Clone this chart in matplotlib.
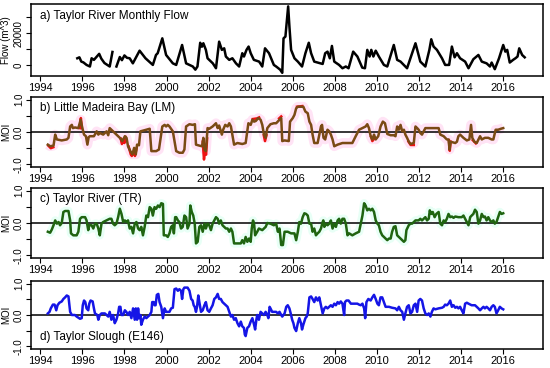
import numpy as np
import matplotlib
matplotlib.use("Agg")
import matplotlib.pyplot as plt

plt.rcParams['font.family'] = ['Liberation Sans', 'DejaVu Sans']

# ---------------- data ----------------
flow_t = [1995.76, 1995.86, 1995.95, 1996.05, 1996.2, 1996.36, 1996.44, 1996.55, 1996.68, 1996.8, 1996.9,
          1997.05, 1997.3, 1997.43, 1997.45, 1997.62, 1997.78, 1997.88, 1998.0, 1998.12, 1998.25, 1998.4,
          1998.72, 1999.0, 1999.35, 1999.5, 1999.58, 1999.8, 1999.98, 2000.3, 2000.46, 2000.74, 2000.93,
          2001.25, 2001.37, 2001.47, 2001.6, 2001.68, 2001.75, 2001.87, 2001.95, 2002.2, 2002.35, 2002.5,
          2002.63, 2002.74, 2002.82, 2002.98, 2003.13, 2003.3, 2003.45, 2003.6, 2003.68, 2003.8, 2003.9,
          2004.0, 2004.15, 2004.4, 2004.55, 2004.68, 2004.87, 2005.1, 2005.21, 2005.4, 2005.5, 2005.56,
          2005.65, 2005.72, 2005.78, 2005.84, 2005.92, 2006.08, 2006.24, 2006.44, 2006.6, 2006.76, 2006.87,
          2007.02, 2007.42, 2007.54, 2007.65, 2007.76, 2007.86, 2007.97, 2008.2, 2008.36, 2008.52, 2008.65,
          2008.87, 2009.07, 2009.3, 2009.43, 2009.54, 2009.65, 2009.73, 2009.83, 2009.94, 2010.09, 2010.33,
          2010.49, 2010.8, 2010.96, 2011.12, 2011.43, 2011.83, 2012.06, 2012.3, 2012.49, 2012.58, 2012.69,
          2012.85, 2013.09, 2013.24, 2013.43, 2013.56, 2013.69, 2013.8, 2013.95, 2014.19, 2014.35, 2014.58,
          2014.82, 2014.98, 2015.21, 2015.37, 2015.45, 2015.6, 2015.8, 2016.0, 2016.1, 2016.19, 2016.31,
          2016.47, 2016.58, 2016.68, 2016.76, 2016.9, 2017.02]
flow_v = [4200, 4800, 2100, 1600, 0, -1000, 4200, 3200, 5200, 7000, 4000,
          1200, -1000, 8200, np.nan, -1000, 5000, 3000, 6000, 4500, 4200, 1000,
          9000, 4200, 0, 6300, 7400, 16800, 6300, 1000, 0, 12600, 1000,
          -1000, -3000, -1000, 14000, 11500, 13700, 9500, 4200, 1000, -2100, 14700,
          9500, 10500, 5300, 3200, 4200, 1000, -1000, 7400, 5300, 9500, 11600,
          7400, 3200, 2100, -1000, 10500, 7400, 0, -1000, -3000, -5000, 16800,
          17900, 28400, 37000, 24200, 9500, 4200, 2100, -1000, 7400, 14000, 7400,
          2100, 600, 7400, 8400, 4200, 12000, 2100, 0, -2100, -1000, -2100,
          8400, 5300, -1700, -2100, 9500, 5300, 9500, 5300, 9000, 5300, 0,
          -1000, 12600, 3200, 2100, -2100, 13700, 2100, -1000, 9500, 16200, 11600,
          9500, 4200, 0, 0, 11600, 4800, 7400, 4200, 2100, -2100, 3600,
          6300, 2100, 1000, -1000, 1500, -2700, 4200, 12600, 8400, 9500, 1500,
          3200, 4200, 5300, 10500, 6300, 4800]

lm_t = [1994.36, 1994.47, 1994.63, 1994.71, 1994.79, 1995.02, 1995.26, 1995.34, 1995.42, 1995.5, 1995.55,
        1995.65, 1995.81, 1995.92, 1996.0, 1996.08, 1996.17, 1996.24, 1996.3, 1996.36, 1996.55, 1996.68,
        1996.76, 1996.83, 1996.99, 1997.15, 1997.23, 1997.3, 1997.46, 1997.62, 1997.78, 1997.9, 1998.02,
        1998.1, 1998.17, 1998.28, 1998.38, 1998.46, 1998.54, 1998.6, 1998.69, 1998.76, 1998.88, 1999.04,
        1999.2, 1999.28, 1999.51, 1999.64, 1999.72, 1999.8, 1999.91, 1999.98, 2000.06, 2000.14, 2000.3,
        2000.46, 2000.61, 2000.77, 2000.85, 2000.93, 2001.09, 2001.24, 2001.35, 2001.4, 2001.56, 2001.69,
        2001.75, 2001.8, 2001.87, 2001.95, 2002.03, 2002.19, 2002.35, 2002.43, 2002.5, 2002.63, 2002.69,
        2002.79, 2002.9, 2002.98, 2003.06, 2003.21, 2003.37, 2003.6, 2003.76, 2003.89, 2004.0, 2004.08,
        2004.16, 2004.24, 2004.36, 2004.47, 2004.55, 2004.63, 2004.71, 2004.79, 2004.94, 2005.1, 2005.21,
        2005.37, 2005.45, 2005.5, 2005.61, 2005.81, 2005.87, 2006.0, 2006.08, 2006.16, 2006.24, 2006.39,
        2006.5, 2006.6, 2006.71, 2006.79, 2006.87, 2006.94, 2007.02, 2007.18, 2007.26, 2007.34, 2007.39,
        2007.46, 2007.54, 2007.65, 2007.73, 2007.81, 2007.89, 2007.97, 2008.13, 2008.36, 2008.6, 2008.83,
        2008.99, 2009.15, 2009.31, 2009.46, 2009.54, 2009.62, 2009.7, 2009.78, 2009.86, 2009.94, 2010.06,
        2010.17, 2010.28, 2010.38, 2010.49, 2010.65, 2010.8, 2010.88, 2010.96, 2011.04, 2011.12, 2011.2,
        2011.28, 2011.35, 2011.43, 2011.5, 2011.59, 2011.75, 2011.83, 2011.91, 2011.98, 2012.06, 2012.14,
        2012.22, 2012.3, 2012.46, 2012.77, 2012.93, 2013.01, 2013.17, 2013.32, 2013.4, 2013.45, 2013.5,
        2013.72, 2013.8, 2013.87, 2013.95, 2014.11, 2014.27, 2014.39, 2014.47, 2014.53, 2014.63, 2014.74,
        2014.9, 2014.98, 2015.13, 2015.29, 2015.45, 2015.53, 2015.64, 2015.76, 2015.89, 2016.0]
lm_v = [-0.39, -0.44, -0.42, -0.08, -0.23, -0.26, -0.23, -0.18, 0.17, 0.22, 0.12,
        0.14, 0.12, 0.38, 0.12, -0.08, -0.13, -0.39, -0.16, -0.13, -0.13, 0.02,
        -0.08, -0.03, -0.08, 0.02, -0.10, 0.12, 0.02, -0.08, -0.18, -0.28, -0.13,
        -0.18, -0.44, -0.59, -0.69, -0.49, -0.69, -0.39, -0.41, 0.02, 0.04, 0.07,
        0.10, -0.59, -0.59, -0.54, -0.18, 0.17, 0.22, 0.17, 0.22, 0.17, 0.02,
        -0.59, -0.64, -0.64, -0.54, 0.17, 0.24, 0.22, 0.24, -0.39, -0.42, -0.44,
        -0.18, -0.54, -0.59, 0.12, 0.10, 0.17, 0.27, 0.12, 0.20, -0.08, 0.07,
        0.22, 0.17, 0.27, 0.17, -0.39, -0.34, -0.37, -0.34, 0.27, 0.22, 0.38,
        0.32, 0.34, 0.43, 0.38, 0.22, -0.08, -0.18, 0.12, 0.24, 0.27, 0.27,
        0.38, 0.43, -0.28, -0.26, -0.28, 0.32, 0.43, 0.53, 0.73, 0.78, 0.78,
        0.78, 0.63, 0.58, 0.32, 0.22, -0.08, -0.34, -0.34, -0.08, 0.17, 0.22,
        -0.18, -0.23, 0.07, 0.02, -0.08, -0.23, -0.44, -0.39, -0.34, -0.34, -0.34,
        -0.13, 0.07, 0.12, 0.17, 0.24, 0.12, -0.13, -0.23, -0.08, -0.23, -0.13,
        0.17, 0.32, 0.27, -0.06, -0.10, -0.10, -0.13, 0.17, 0.07, 0.22, 0.02,
        0.07, -0.08, -0.18, -0.28, -0.37, -0.34, 0.17, 0.12, 0.07, -0.03, -0.08,
        0.02, 0.12, 0.12, 0.12, 0.12, -0.08, -0.13, -0.23, -0.23, -0.54, -0.30,
        -0.34, -0.30, -0.13, -0.08, -0.18, -0.26, -0.23, 0.22, -0.18, -0.30, -0.34,
        -0.13, -0.23, -0.18, -0.18, -0.23, -0.23, 0.07, 0.07, 0.10, 0.12]

# red series (shown where it departs from the brown one)
lm_red_t = [1994.38, 1994.5, 1994.62, np.nan, 1995.88, 1995.93, 1995.98, np.nan,
            1997.82, 1997.88, 1997.95, 1998.0, 1998.05, np.nan,
            1998.2, 1998.3, 1998.35, 1998.45, 1998.5, 1998.58, np.nan,
            2001.72, 2001.78, 2001.83, 2001.88, 2001.93, np.nan,
            2004.1, 2004.3, 2004.4, np.nan, 2004.62, 2004.68, 2004.75, np.nan,
            2005.35, 2005.45, np.nan, 2006.2, 2006.45, np.nan,
            2009.72, 2009.78, 2009.88, np.nan, 2011.5, 2011.6, 2011.75, np.nan,
            2013.42, 2013.46, 2013.5, np.nan, 2014.55, 2014.7]
lm_red_v = [-0.42, -0.50, -0.47, np.nan, 0.12, 0.43, 0.12, np.nan,
            -0.20, -0.37, -0.22, -0.34, -0.15, np.nan,
            -0.45, -0.69, -0.74, -0.60, -0.74, -0.50, np.nan,
            -0.30, -0.85, -0.60, -0.70, -0.20, np.nan,
            0.40, 0.42, 0.45, np.nan, -0.10, -0.28, -0.10, np.nan,
            0.42, 0.48, np.nan, 0.78, 0.80, np.nan,
            -0.15, -0.28, -0.20, np.nan, -0.30, -0.40, -0.40, np.nan,
            -0.25, -0.58, -0.30, np.nan, -0.25, -0.35]

tr_t = [1994.36, 1994.47, 1994.55, 1994.63, 1994.71, 1994.79, 1994.87, 1994.94, 1995.02, 1995.1, 1995.18,
        1995.34, 1995.42, 1995.46, 1995.57, 1995.73, 1995.81, 1995.89, 1995.97, 1996.13, 1996.2, 1996.28,
        1996.33, 1996.44, 1996.52, 1996.6, 1996.68, 1996.76, 1996.83, 1996.91, 1996.99, 1997.15, 1997.3,
        1997.38, 1997.46, 1997.54, 1997.62, 1997.7, 1997.78, 1997.86, 1997.94, 1998.02, 1998.1, 1998.17,
        1998.25, 1998.33, 1998.41, 1998.49, 1998.57, 1998.65, 1998.72, 1998.8, 1998.88, 1998.96, 1999.04,
        1999.12, 1999.2, 1999.28, 1999.35, 1999.43, 1999.51, 1999.59, 1999.67, 1999.75, 1999.83, 1999.87,
        1999.98, 2000.06, 2000.14, 2000.22, 2000.3, 2000.35, 2000.41, 2000.46, 2000.54, 2000.61, 2000.69,
        2000.77, 2000.85, 2000.93, 2001.0, 2001.09, 2001.13, 2001.2, 2001.27, 2001.34, 2001.4, 2001.48,
        2001.56, 2001.64, 2001.72, 2001.8, 2001.87, 2001.95, 2002.03, 2002.11, 2002.19, 2002.27, 2002.35,
        2002.43, 2002.5, 2002.58, 2002.66, 2002.74, 2002.82, 2002.9, 2002.98, 2003.06, 2003.13, 2003.21,
        2003.37, 2003.53, 2003.6, 2003.68, 2003.76, 2003.84, 2003.92, 2004.0, 2004.05, 2004.11, 2004.16,
        2004.21, 2004.31, 2004.39, 2004.55, 2004.71, 2004.79, 2004.94, 2005.1, 2005.21, 2005.29, 2005.37,
        2005.45, 2005.53, 2005.61, 2005.76, 2005.92, 2006.08, 2006.16, 2006.24, 2006.31, 2006.39, 2006.47,
        2006.55, 2006.63, 2006.71, 2006.79, 2006.87, 2006.94, 2007.02, 2007.1, 2007.18, 2007.26, 2007.34,
        2007.42, 2007.45, 2007.5, 2007.57, 2007.65, 2007.73, 2007.81, 2007.89, 2007.97, 2008.05, 2008.13,
        2008.2, 2008.28, 2008.36, 2008.44, 2008.52, 2008.6, 2008.68, 2008.83, 2008.99, 2009.15, 2009.23,
        2009.31, 2009.39, 2009.46, 2009.54, 2009.62, 2009.7, 2009.78, 2009.86, 2009.94, 2010.02, 2010.09,
        2010.17, 2010.25, 2010.33, 2010.41, 2010.49, 2010.57, 2010.65, 2010.72, 2010.8, 2010.88, 2010.96,
        2011.04, 2011.12, 2011.28, 2011.35, 2011.4, 2011.51, 2011.59, 2011.67, 2011.75, 2011.83, 2011.98,
        2012.06, 2012.14, 2012.22, 2012.3, 2012.38, 2012.46, 2012.51, 2012.58, 2012.65, 2012.74, 2012.82,
        2012.93, 2013.01, 2013.09, 2013.17, 2013.24, 2013.32, 2013.4, 2013.48, 2013.56, 2013.64, 2013.72,
        2013.87, 2014.03, 2014.11, 2014.19, 2014.27, 2014.35, 2014.43, 2014.5, 2014.58, 2014.66, 2014.74,
        2014.82, 2014.9, 2014.98, 2015.06, 2015.13, 2015.21, 2015.29, 2015.37, 2015.45, 2015.53, 2015.6,
        2015.68, 2015.76, 2015.84, 2015.92, 2016.0]
tr_v = [-0.27, -0.30, -0.20, -0.07, 0.08, -0.02, 0.03, -0.07, 0.0, 0.34, 0.37,
        0.37, 0.08, -0.32, -0.38, -0.38, -0.27, 0.13, 0.18, 0.18, 0.08, -0.22,
        -0.07, -0.07, -0.17, -0.02, -0.02, -0.17, -0.38, -0.02, 0.03, 0.08, 0.13,
        0.13, -0.02, -0.07, -0.02, 0.18, 0.44, 0.28, 0.03, 0.08, 0.03, 0.08,
        -0.17, -0.12, -0.32, -0.02, 0.03, -0.17, -0.22, -0.12, -0.38, -0.12, 0.23,
        0.18, 0.49, 0.44, 0.23, 0.49, 0.44, 0.54, 0.49, 0.61, 0.59, -0.38,
        -0.38, -0.43, -0.32, -0.12, -0.07, -0.32, 0.18, 0.18, 0.08, 0.03, -0.17,
        -0.12, 0.23, 0.18, -0.17, -0.02, 0.54, 0.34, 0.23, -0.02, -0.63, -0.58,
        -0.12, -0.07, -0.27, -0.02, -0.17, -0.02, -0.07, -0.22, -0.02, 0.08, 0.18,
        0.13, -0.02, 0.08, -0.07, -0.12, -0.17, -0.17, -0.27, -0.17, -0.27, -0.63,
        -0.63, -0.63, -0.53, -0.63, -0.43, -0.58, -0.48, -0.58, -0.17, 0.08, -0.02,
        -0.38, -0.27, -0.17, -0.22, -0.12, 0.0, -0.02, -0.07, -0.02, -0.27, -0.17,
        -0.68, -0.68, -0.27, -0.27, -0.32, -0.32, -0.53, -0.27, 0.03, -0.02, 0.18,
        0.30, 0.28, 0.23, -0.02, -0.02, -0.27, -0.17, -0.38, -0.32, -0.27, -0.17,
        0.03, 0.08, -0.12, -0.02, -0.07, -0.02, 0.08, -0.17, -0.02, -0.12, 0.08,
        0.13, -0.02, 0.13, 0.13, -0.02, -0.38, -0.32, -0.38, -0.32, -0.27, -0.02,
        0.23, 0.61, 0.54, 0.39, 0.44, 0.39, 0.44, 0.34, 0.08, -0.02, -0.07,
        -0.27, -0.38, -0.43, -0.48, -0.53, -0.48, -0.48, -0.27, -0.12, -0.10, -0.38,
        -0.43, -0.48, -0.58, -0.53, -0.22, -0.07, -0.02, -0.02, 0.03, 0.08, 0.08,
        0.13, 0.08, 0.13, 0.18, 0.08, 0.13, 0.39, 0.28, 0.34, 0.18, 0.28,
        0.34, -0.02, -0.07, 0.08, 0.03, 0.13, 0.28, 0.18, 0.20, 0.16, 0.20,
        0.18, 0.18, 0.23, 0.13, 0.03, -0.07, 0.18, 0.23, 0.28, 0.41, 0.34,
        -0.02, 0.08, 0.28, 0.18, 0.20, 0.08, 0.18, 0.08, 0.03, 0.08, -0.02,
        0.03, 0.18, 0.34, 0.28, 0.30]

ts_t = [1994.36, 1994.44, 1994.5, 1994.6, 1994.68, 1994.76, 1994.82, 1994.91, 1995.02, 1995.1, 1995.18,
        1995.26, 1995.34, 1995.42, 1995.5, 1995.65, 1995.73, 1995.89, 1995.97, 1996.02, 1996.08, 1996.14,
        1996.2, 1996.28, 1996.33, 1996.39, 1996.49, 1996.55, 1996.6, 1996.71, 1996.76, 1996.83, 1996.91,
        1997.07, 1997.15, 1997.23, 1997.3, 1997.38, 1997.46, 1997.54, 1997.62, 1997.7, 1997.75, 1997.81,
        1997.86, 1997.94, 1998.02, 1998.09, 1998.17, 1998.25, 1998.33, 1998.41, 1998.49, 1998.54, 1998.6,
        1998.65, 1998.7, 1998.76, 1998.8, 1998.88, 1998.96, 1999.04, 1999.2, 1999.28, 1999.32, 1999.39,
        1999.43, 1999.48, 1999.54, 1999.61, 1999.67, 1999.75, 1999.83, 1999.91, 1999.98, 2000.14, 2000.22,
        2000.3, 2000.38, 2000.46, 2000.54, 2000.61, 2000.69, 2000.74, 2000.8, 2000.85, 2001.0, 2001.09,
        2001.17, 2001.24, 2001.29, 2001.34, 2001.4, 2001.45, 2001.51, 2001.56, 2001.64, 2001.72, 2001.8,
        2001.87, 2001.95, 2002.03, 2002.11, 2002.19, 2002.27, 2002.35, 2002.43, 2002.5, 2002.58, 2002.66,
        2002.74, 2002.82, 2002.9, 2002.98, 2003.06, 2003.13, 2003.21, 2003.29, 2003.37, 2003.45, 2003.53,
        2003.6, 2003.68, 2003.72, 2003.76, 2003.84, 2003.92, 2004.0, 2004.08, 2004.16, 2004.21, 2004.27,
        2004.31, 2004.39, 2004.47, 2004.55, 2004.63, 2004.71, 2004.79, 2004.84, 2004.9, 2004.94, 2005.02,
        2005.1, 2005.21, 2005.29, 2005.37, 2005.45, 2005.5, 2005.61, 2005.69, 2005.76, 2005.84, 2005.92,
        2005.97, 2006.03, 2006.08, 2006.16, 2006.24, 2006.31, 2006.39, 2006.44, 2006.5, 2006.55, 2006.6,
        2006.66, 2006.71, 2006.79, 2006.87, 2006.94, 2007.02, 2007.1, 2007.18, 2007.26, 2007.34, 2007.42,
        2007.5, 2007.57, 2007.65, 2007.73, 2007.81, 2007.89, 2007.97, 2008.05, 2008.13, 2008.2, 2008.28,
        2008.36, 2008.44, 2008.48, 2008.55, 2008.65, 2008.76, 2008.91, 2009.07, 2009.15, 2009.23, 2009.31,
        2009.39, 2009.44, 2009.5, 2009.59, 2009.7, 2009.78, 2009.86, 2009.94, 2010.02, 2010.09, 2010.17,
        2010.25, 2010.33, 2010.41, 2010.57, 2010.72, 2010.88, 2010.96, 2011.04, 2011.12, 2011.2, 2011.28,
        2011.35, 2011.43, 2011.51, 2011.59, 2011.67, 2011.75, 2011.83, 2011.91, 2011.98, 2012.06, 2012.14,
        2012.22, 2012.3, 2012.38, 2012.46, 2012.54, 2012.61, 2012.69, 2012.77, 2012.93, 2013.09, 2013.17,
        2013.24, 2013.32, 2013.4, 2013.48, 2013.56, 2013.64, 2013.72, 2013.8, 2013.87, 2013.95, 2014.03,
        2014.11, 2014.19, 2014.27, 2014.35, 2014.5, 2014.66, 2014.74, 2014.82, 2014.9, 2014.98, 2015.06,
        2015.13, 2015.21, 2015.29, 2015.37, 2015.45, 2015.53, 2015.6, 2015.68, 2015.76, 2015.84, 2015.92,
        2016.0]
ts_v = [0.05, 0.10, 0.21, 0.33, 0.33, 0.15, 0.31, 0.39, 0.43, 0.51, 0.56,
        0.62, 0.59, 0.10, 0.0, 0.0, -0.05, -0.12, -0.10, 0.31, 0.46, 0.41,
        0.21, 0.15, 0.36, 0.46, 0.43, 0.21, 0.05, 0.0, -0.15, 0.0, 0.05,
        0.05, 0.0, -0.05, 0.10, -0.15, 0.0, -0.26, -0.15, 0.05, 0.26, 0.26,
        0.0, 0.0, 0.15, 0.10, 0.0, 0.10, -0.10, 0.21, -0.15, 0.21, -0.15,
        0.21, -0.10, 0.0, -0.31, -0.15, -0.05, -0.10, 0.0, 0.10, 0.41, 0.41,
        0.31, 0.31, 0.64, 0.67, 0.41, 0.26, -0.10, 0.21, 0.10, 0.10, 0.21,
        0.23, 0.82, 0.84, 0.77, 0.82, 0.77, 0.51, 0.82, 0.87, 0.87, 0.77,
        0.51, 0.46, 0.31, 0.26, 0.10, 0.26, 0.62, 0.41, 0.10, 0.15, 0.31,
        0.41, 0.15, 0.10, 0.21, 0.31, 0.51, 0.56, 0.67, 0.51, 0.51, 0.41,
        0.36, 0.31, 0.26, 0.10, -0.05, 0.0, -0.15, -0.10, -0.26, -0.36, -0.21,
        -0.36, -0.41, -0.62, -0.67, -0.41, -0.36, -0.21, -0.10, -0.31, -0.46, -0.15,
        0.0, -0.15, 0.10, 0.05, 0.0, 0.10, 0.0, -0.10, 0.26, 0.21, 0.10,
        0.10, 0.10, 0.05, 0.10, 0.0, -0.05, 0.05, 0.26, 0.31, 0.21, 0.0,
        -0.15, -0.26, -0.41, -0.51, -0.26, -0.10, -0.26, -0.46, -0.31, -0.21, -0.10,
        -0.05, 0.05, 0.56, 0.59, 0.51, 0.41, 0.56, 0.46, 0.56, 0.31, 0.05,
        0.21, 0.26, 0.21, 0.26, 0.31, 0.26, 0.36, 0.31, 0.41, 0.36, 0.43,
        0.36, 0.0, 0.41, 0.46, 0.46, 0.36, 0.36, 0.36, 0.33, 0.31, 0.36,
        0.21, -0.10, 0.41, 0.51, 0.46, 0.56, 0.64, 0.51, 0.36, 0.31, 0.56,
        0.56, 0.41, 0.26, 0.26, 0.23, 0.21, 0.15, 0.26, 0.15, 0.10, -0.15,
        0.05, 0.26, 0.31, 0.05, 0.10, 0.31, 0.36, 0.10, 0.46, 0.51, 0.46,
        0.21, 0.05, 0.0, 0.05, -0.05, 0.10, 0.21, 0.18, 0.21, 0.23, 0.26,
        0.33, 0.31, 0.36, 0.46, 0.26, 0.31, 0.23, 0.26, 0.21, 0.26, 0.15,
        0.05, 0.36, 0.39, 0.36, 0.31, 0.31, 0.26, 0.21, 0.15, 0.21, 0.26,
        0.21, 0.26, 0.21, 0.15, 0.26, 0.31, 0.26, 0.05, 0.15, 0.26, 0.21,
        0.18]

year_ticks = list(range(1994, 2017, 2))
flow_ticks = [0, 10000, 20000, 30000]
flow_labels = ["0", "", "20000", ""]
moi_ticks = [-1.0, -0.5, 0.0, 0.5, 1.0]
moi_labels = ["-1.0", "", "0.0", "", "1.0"]
titles = ["a) Taylor River Monthly Flow", "b) Little Madeira Bay (LM)",
          "c) Taylor River (TR)", "d) Taylor Slough (E146)"]

# ---------------- figure ----------------
W, H = 550, 368
fig = plt.figure(figsize=(W / 100, H / 100), dpi=100)

def box(top, bottom):
    return [31 / W, 1 - bottom / H, 512 / W, (bottom - top) / H]

axs = [fig.add_axes(box(4, 76)), fig.add_axes(box(97, 167)),
       fig.add_axes(box(188, 258)), fig.add_axes(box(281, 349))]

for ax in axs:
    ax.set_xlim(1993.56, 2017.89)
    ax.set_xticks(year_ticks)
    ax.tick_params(axis='both', direction='out', length=3.5, width=0.8,
                   labelsize=8, pad=1.5, color='black')
    for s in ax.spines.values():
        s.set_linewidth(1.1)
    ax.set_facecolor('white')

LW = 1.8

# a
ax = axs[0]
ax.plot(flow_t, flow_v, color='black', lw=LW, solid_joinstyle='round')
ax.set_ylim(-7000, 38500)
ax.set_yticks(flow_ticks)
ax.set_yticklabels(flow_labels, rotation=90, va='center', fontsize=7)
ax.set_ylabel("Flow (m^3)", fontsize=7, labelpad=2)
ax.text(0.018, 0.84, titles[0], transform=ax.transAxes, fontsize=8.5, va='center')

# b
ax = axs[1]
ax.plot(lm_t, lm_v, color='#ffe3f5', lw=7, solid_capstyle='butt', zorder=1)
ax.axhline(0, color='black', lw=1.1, zorder=2)
ax.plot(lm_red_t, lm_red_v, color='#ee1111', lw=LW, zorder=3)
ax.plot(lm_t, lm_v, color='#7a4a14', lw=LW, zorder=4, solid_joinstyle='round')
ax.text(0.018, 0.84, titles[1], transform=ax.transAxes, fontsize=8.5, va='center')

# c
ax = axs[2]
ax.plot(tr_t, tr_v, color='#e8fff6', lw=6, solid_capstyle='butt', zorder=1)
ax.axhline(0, color='black', lw=1.1, zorder=2)
ax.plot(tr_t, tr_v, color='#1f6410', lw=LW, zorder=4, solid_joinstyle='round')
ax.text(0.018, 0.84, titles[2], transform=ax.transAxes, fontsize=8.5, va='center')

# d
ax = axs[3]
ax.axhline(0, color='black', lw=1.1, zorder=2)
ax.plot(ts_t, ts_v, color='#1515e6', lw=LW, zorder=4, solid_joinstyle='round')
ax.text(0.018, 0.17, titles[3], transform=ax.transAxes, fontsize=8.5, va='center')

for ax in axs[1:]:
    ax.set_ylim(-1.08, 1.08)
    ax.set_yticks(moi_ticks)
    ax.set_yticklabels(moi_labels, rotation=90, va='center', fontsize=7)
    ax.set_ylabel("MOI", fontsize=7, labelpad=2)

fig.savefig("out.png", dpi=100)
